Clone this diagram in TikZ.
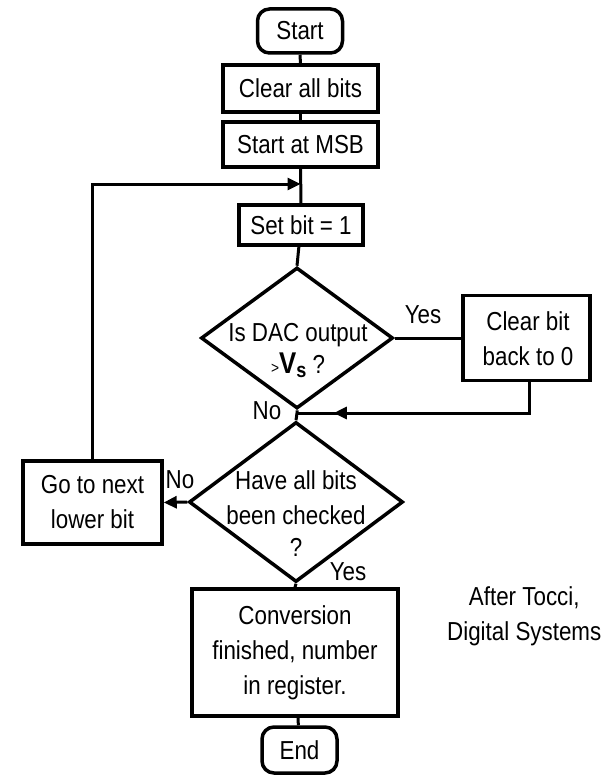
\documentclass[tikz,border=0pt]{standalone}
\usepackage{fontspec}
\setmainfont[FakeStretch=0.86]{Liberation Sans}
\usetikzlibrary{shapes.geometric,arrows.meta,decorations.markings}
\begin{document}
\begin{tikzpicture}[x=1pt,y=-1pt,
  every node/.style={font=\fontsize{26}{35}\selectfont},
  box/.style={draw, line width=3.5pt, inner sep=0pt, align=center},
  term/.style={box, rounded corners=12pt},
  dia/.style={draw, diamond, line width=3.5pt, inner sep=0pt},
  txt/.style={align=center, inner sep=0pt},
  conn/.style={line width=3pt},
  tip/.style={-{Triangle[length=13pt,width=12pt]}},
  midtip/.style={postaction={decorate}, decoration={markings,
     mark=at position #1 with {\arrow{Triangle[length=13pt,width=12pt]}}}}
]
\useasboundingbox (0,0) rectangle (607,776);

\node[term, minimum width=85pt, minimum height=44pt] (start) at (300,31) {Start};
\node[box, minimum width=155pt, minimum height=47pt] (clear) at (300.5,88.5) {Clear all bits};
\node[box, minimum width=155pt, minimum height=45pt] (msb) at (300.5,144.5) {Start at MSB};
\node[box, minimum width=124pt, minimum height=40pt] (set) at (301,225) {Set bit = 1};
\node[dia, minimum width=192pt, minimum height=141pt] (d1) at (297,338) {};
\node[txt] (d1t) at (298,351) {Is DAC output\\[-3pt]{\fontsize{16}{16}\selectfont >}{\fontsize{30}{30}\selectfont\bfseries V}\raisebox{-4pt}{\fontsize{21}{21}\selectfont\bfseries s} ?};
\node[box, minimum width=127pt, minimum height=85pt] (cb) at (526.5,338) {};
\node[txt] (cbt) at (528,339) {Clear bit\\back to 0};
\coordinate (j) at (297,413);
\node[dia, minimum width=214pt, minimum height=160pt] (d2) at (296,502) {};
\node[txt] (d2t) at (296,514) {Have all bits\\been checked\\[-3pt]?};
\node[box, minimum width=139pt, minimum height=83pt] (nb) at (92.5,502.5) {Go to next\\lower bit};
\node[box, minimum width=206pt, minimum height=127pt] (conv) at (295,652.5) {Conversion\\finished, number\\in register.};
\node[term, minimum width=75pt, minimum height=46pt] (end) at (299.5,750) {End};

\node[txt, anchor=west] (tocci) at (447,616) {After Tocci,\\Digital Systems};

\coordinate (loopm) at (msb.south |- 0,184);

\draw[conn] (start) -- (clear);
\draw[conn] (clear) -- (msb);
\draw[conn] (msb) -- (set);
\draw[conn] (set) -- (d1.north);
\draw[conn] (d1.east) -- (cb.west);
\draw[conn] (d1.south) -- (j) -- (d2.north);
\draw[conn, midtip=0.86] (cb.south -| 529,0) |- (j);
\draw[conn, tip] (d2.west) -- (nb.east);
\draw[conn, tip] (nb.north) |- (loopm);
\draw[conn] (d2.south) -- (conv.north);
\draw[conn] (conv) -- (end);

\node[txt] (yes1) at (423,315) {Yes};
\node[txt] (no1) at (267,411) {No};
\node[txt] (no2) at (180,480) {No};
\node[txt] (yes2) at (348,572) {Yes};
\end{tikzpicture}
\end{document}
